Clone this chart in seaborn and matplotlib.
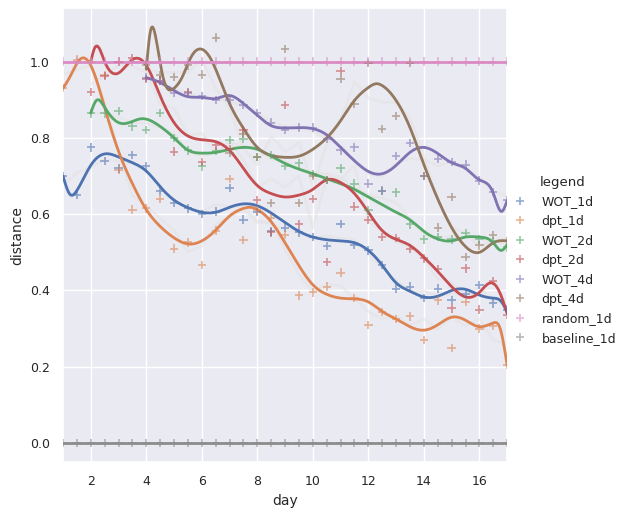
import numpy as np
import pandas as pd
import matplotlib
matplotlib.use("Agg")
import matplotlib.pyplot as plt
import seaborn as sns

# measured points, one every half day
days_1d = np.arange(1, 17.5, 0.5)
days_2d = np.arange(2, 17.5, 0.5)
days_4d = np.arange(4, 17.5, 0.5)

wot_1d = [0.70, 0.65, 0.775, 0.74, 0.72, 0.755, 0.725, 0.66, 0.63, 0.615, 0.60,
          0.607, 0.668, 0.586, 0.605, 0.555, 0.565, 0.552, 0.54, 0.516, 0.575,
          0.52, 0.505, 0.466, 0.405, 0.41, 0.38, 0.405, 0.375, 0.39, 0.414,
          0.366, 0.35]
dpt_1d = [0.93, 1.005, 1.0, 0.965, 0.717, 0.612, 0.615, 0.64, 0.51, 0.526,
          0.466, 0.557, 0.693, 0.533, 0.61, 0.59, 0.545, 0.387, 0.395, 0.41,
          0.447, 0.38, 0.31, 0.343, 0.325, 0.332, 0.27, 0.374, 0.249, 0.37,
          0.30, 0.307, 0.204]
wot_2d = [0.864, 0.864, 0.87, 0.83, 0.82, 0.866, 0.80, 0.767, 0.725, 0.765,
          0.795, 0.798, 0.75, 0.755, 0.726, 0.733, 0.705, 0.69, 0.72, 0.68,
          0.61, 0.66, 0.657, 0.573, 0.534, 0.54, 0.534, 0.55, 0.534, 0.53, 0.513]
dpt_2d = [0.92, 0.963, 1.0, 1.01, 0.955, 0.95, 0.764, 0.92, 0.737, 0.78, 0.77,
          0.82, 0.638, 0.552, 0.887, 0.575, 0.64, 0.474, 0.976, 0.62, 0.585,
          0.54, 0.537, 0.51, 0.484, 0.456, 0.353, 0.458, 0.35, 0.424, 0.335]
wot_4d = [0.958, 0.95, 0.918, 0.918, 0.91, 0.90, 0.898, 0.887, 0.866, 0.84,
          0.82, 0.827, 0.827, 0.798, 0.767, 0.775, 0.68, 0.662, 0.752, 0.786,
          0.70, 0.745, 0.736, 0.73, 0.688, 0.658, 0.636]
dpt_4d = [0.99, 0.965, 0.96, 0.99, 0.966, 1.063, 0.76, 0.81, 0.75, 0.63, 1.033,
          0.63, 0.70, 0.69, 0.955, 0.89, 0.997, 0.824, 0.858, 0.997, 0.70,
          0.565, 0.645, 0.487, 0.518, 0.545, 0.53]
random_1d = [1.0] * len(days_1d)
baseline_1d = [0.0] * len(days_1d)

# smoothed trend curves (knots)
fit_wot_1d_x = [1, 1.25, 1.5, 2, 2.5, 3, 3.5, 4, 4.5, 5, 5.5, 6, 6.5, 7, 7.5, 8,
                8.5, 9, 9.5, 10, 10.5, 11, 11.5, 12, 12.5, 13, 13.5, 14, 14.5,
                15, 15.5, 16, 16.5, 16.8, 17]
fit_wot_1d_y = [0.70, 0.652, 0.662, 0.728, 0.758, 0.75, 0.735, 0.713, 0.672,
                0.637, 0.617, 0.605, 0.605, 0.618, 0.627, 0.622, 0.603, 0.578,
                0.555, 0.54, 0.533, 0.53, 0.525, 0.505, 0.466, 0.42, 0.398,
                0.383, 0.385, 0.40, 0.403, 0.388, 0.38, 0.37, 0.343]
fit_dpt_1d_x = [1, 1.25, 1.6, 2, 2.5, 3, 3.5, 4, 4.5, 5, 5.5, 6, 6.5, 7, 7.5,
                7.75, 8, 8.5, 9, 9.5, 10, 10.5, 11, 11.5, 12, 12.5, 13, 13.5,
                14, 14.5, 15, 15.5, 16, 16.5, 16.75, 17]
fit_dpt_1d_y = [0.93, 0.96, 1.005, 0.99, 0.88, 0.765, 0.68, 0.612, 0.568, 0.538,
                0.522, 0.53, 0.558, 0.595, 0.615, 0.618, 0.612, 0.58, 0.525,
                0.465, 0.415, 0.39, 0.38, 0.378, 0.37, 0.345, 0.325, 0.305,
                0.296, 0.31, 0.33, 0.322, 0.305, 0.315, 0.30, 0.204]
fit_wot_2d_x = [2, 2.2, 2.5, 3, 3.5, 3.8, 4.5, 5, 5.5, 6, 6.5, 7, 7.5, 8, 8.5, 9,
                9.5, 10, 10.5, 11, 11.5, 12, 12.5, 13, 13.5, 14, 14.5, 15, 15.5,
                16, 16.5, 16.8, 17]
fit_wot_2d_y = [0.865, 0.898, 0.88, 0.84, 0.843, 0.85, 0.83, 0.80, 0.768, 0.76,
                0.762, 0.77, 0.775, 0.77, 0.752, 0.733, 0.718, 0.706, 0.693,
                0.68, 0.665, 0.645, 0.625, 0.605, 0.585, 0.555, 0.535, 0.53,
                0.54, 0.54, 0.525, 0.505, 0.52]
fit_dpt_2d_x = [2, 2.15, 2.5, 3, 3.5, 4, 4.5, 5, 5.5, 6, 6.5, 7, 7.5, 8, 8.5, 9,
                9.5, 10, 10.5, 11, 11.5, 12, 12.5, 13, 13.5, 14, 14.5, 15, 15.5,
                16, 16.4, 16.7, 17]
fit_dpt_2d_y = [1.0, 1.037, 1.0, 0.97, 1.005, 0.99, 0.91, 0.84, 0.805, 0.795,
                0.79, 0.767, 0.72, 0.675, 0.654, 0.645, 0.65, 0.665, 0.69, 0.683,
                0.654, 0.605, 0.557, 0.534, 0.518, 0.487, 0.45, 0.41, 0.383,
                0.395, 0.42, 0.40, 0.34]
fit_wot_4d_x = [4, 4.5, 5, 5.5, 6, 6.5, 7, 7.5, 8, 8.5, 9, 9.5, 10, 10.5, 11,
                11.5, 12, 12.5, 13, 13.5, 14, 14.5, 15, 15.5, 16, 16.5, 16.8, 17]
fit_wot_4d_y = [0.958, 0.945, 0.924, 0.908, 0.906, 0.903, 0.911, 0.89, 0.859,
                0.832, 0.826, 0.827, 0.824, 0.808, 0.775, 0.74, 0.712, 0.706,
                0.728, 0.762, 0.775, 0.759, 0.735, 0.72, 0.69, 0.655, 0.607,
                0.636]
fit_dpt_4d_x = [4, 4.15, 4.35, 4.6, 5, 5.3, 5.6, 5.95, 6.3, 6.5, 7, 7.5, 8, 8.5,
                9, 9.5, 10, 10.5, 11, 11.5, 12, 12.3, 12.5, 13, 13.5, 14, 14.5,
                15, 15.5, 16, 16.5, 17]
fit_dpt_4d_y = [0.98, 1.08, 1.06, 0.96, 0.93, 0.96, 1.01, 1.033, 1.01, 0.98,
                0.89, 0.825, 0.775, 0.754, 0.749, 0.752, 0.77, 0.80, 0.845,
                0.898, 0.932, 0.942, 0.937, 0.898, 0.827, 0.73, 0.64, 0.565,
                0.515, 0.50, 0.525, 0.53]

labels = ["WOT_1d", "dpt_1d", "WOT_2d", "dpt_2d", "WOT_4d", "dpt_4d",
          "random_1d", "baseline_1d"]


def natural_spline(xk, yk, num=400):
    xk = np.asarray(xk, float)
    yk = np.asarray(yk, float)
    n = len(xk)
    h = np.diff(xk)
    A = np.zeros((n, n))
    rhs = np.zeros(n)
    A[0, 0] = A[-1, -1] = 1
    for i in range(1, n - 1):
        A[i, i - 1] = h[i - 1]
        A[i, i] = 2 * (h[i - 1] + h[i])
        A[i, i + 1] = h[i]
        rhs[i] = 6 * ((yk[i + 1] - yk[i]) / h[i] - (yk[i] - yk[i - 1]) / h[i - 1])
    M = np.linalg.solve(A, rhs)
    xs = np.linspace(xk[0], xk[-1], num)
    idx = np.clip(np.searchsorted(xk, xs) - 1, 0, n - 2)
    x0, x1 = xk[idx], xk[idx + 1]
    hh = x1 - x0
    a = (x1 - xs) / hh
    b = (xs - x0) / hh
    ys = (a * yk[idx] + b * yk[idx + 1]
          + ((a ** 3 - a) * M[idx] + (b ** 3 - b) * M[idx + 1]) * hh ** 2 / 6)
    return xs, ys


points = pd.concat([
    pd.DataFrame({"day": d, "distance": v, "legend": name})
    for name, d, v in zip(labels,
                          [days_1d, days_1d, days_2d, days_2d, days_4d, days_4d,
                           days_1d, days_1d],
                          [wot_1d, dpt_1d, wot_2d, dpt_2d, wot_4d, dpt_4d,
                           random_1d, baseline_1d])
], ignore_index=True)

fits = [(fit_wot_1d_x, fit_wot_1d_y), (fit_dpt_1d_x, fit_dpt_1d_y),
        (fit_wot_2d_x, fit_wot_2d_y), (fit_dpt_2d_x, fit_dpt_2d_y),
        (fit_wot_4d_x, fit_wot_4d_y), (fit_dpt_4d_x, fit_dpt_4d_y)]
curves = []
for name, (fx, fy) in zip(labels, fits):
    xs, ys = natural_spline(fx, fy)
    curves.append(pd.DataFrame({"day": xs, "distance": ys, "legend": name}))
for name in ["random_1d", "baseline_1d"]:
    sub = points[points["legend"] == name]
    curves.append(sub[["day", "distance", "legend"]])
curves = pd.concat(curves, ignore_index=True)

sns.set_theme(style="darkgrid")
palette = dict(zip(labels, sns.color_palette("deep", 8)))

fig = plt.figure(figsize=(6.3, 5.09), dpi=100)
ax = fig.add_axes([0.1, 0.092, 0.705, 0.892])

# faint rolling mean of the raw points
for name in labels[:6]:
    sub = points[points["legend"] == name]
    roll = sub["distance"].rolling(3, center=True, min_periods=1).mean()
    ax.plot(sub["day"], roll, color="#e4e4e4", alpha=0.55, lw=2, zorder=1)

sns.lineplot(data=curves, x="day", y="distance", hue="legend", palette=palette,
             estimator=None, sort=False, lw=2, legend=False, ax=ax, zorder=3)
sns.scatterplot(data=points, x="day", y="distance", hue="legend",
                palette=palette, marker="+", s=36, linewidth=1.2, alpha=0.6,
                ax=ax, zorder=4)

ax.set_xlim(1, 17)
ax.set_ylim(-0.05, 1.14)
ax.set_xticks([2, 4, 6, 8, 10, 12, 14, 16])
ax.set_yticks([0.0, 0.2, 0.4, 0.6, 0.8, 1.0])
ax.tick_params(labelsize=9)
ax.set_xlabel("day", fontsize=10)
ax.set_ylabel("distance", fontsize=10)

sns.move_legend(ax, "center left", bbox_to_anchor=(0.985, 0.445), frameon=False,
                title="legend", fontsize=9, title_fontsize=9.5,
                handletextpad=0.7, borderaxespad=0.2, labelspacing=0.52)

fig.savefig("out.png", dpi=100)
